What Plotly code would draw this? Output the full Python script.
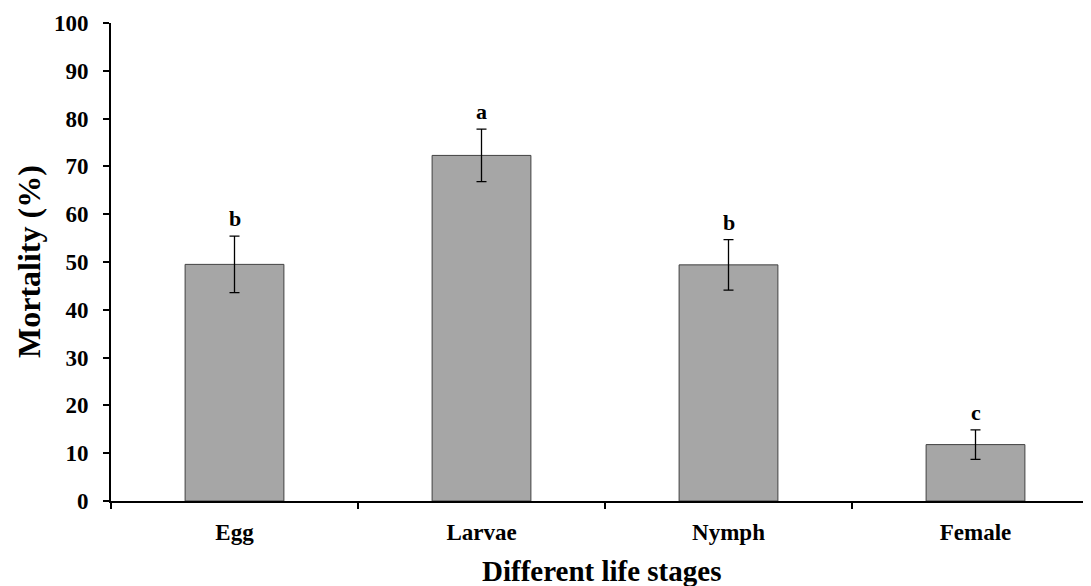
import plotly.graph_objects as go

stages = ["Egg", "Larvae", "Nymph", "Female"]
mortality = [49.5, 72.3, 49.4, 11.8]
errors = [5.9, 5.5, 5.3, 3.1]
letters = ["b", "a", "b", "c"]
y_ticks = [0, 10, 20, 30, 40, 50, 60, 70, 80, 90, 100]
x_title = "Different life stages"
y_title = "Mortality (%)"

FONT = "Liberation Serif"

fig = go.Figure()
fig.add_trace(go.Bar(
    x=stages, y=mortality, width=0.4,
    marker=dict(color="#a6a6a6", line=dict(color="#404040", width=1)),
    error_y=dict(type="data", array=errors, visible=True,
                 color="black", thickness=1.3, width=5),
))

for s, v, e, l in zip(stages, mortality, errors, letters):
    fig.add_annotation(x=s, y=v + e, text=l, showarrow=False,
                       yanchor="bottom", yshift=3,
                       font=dict(family=FONT, size=22, color="black", weight="bold"))

fig.add_annotation(xref="paper", yref="paper", x=0.5, y=0, yshift=-70, xshift=-4,
                   text=x_title, showarrow=False, xanchor="center", yanchor="middle",
                   font=dict(family=FONT, size=29, color="black", weight="bold"))
fig.add_annotation(xref="paper", yref="paper", x=0, y=0.5, xshift=-82,
                   text=y_title, showarrow=False, textangle=-90,
                   xanchor="center", yanchor="middle",
                   font=dict(family=FONT, size=32, color="black", weight="bold"))

fig.update_layout(
    width=1091, height=586,
    margin=dict(l=103, r=0, t=15, b=92.5, autoexpand=False),
    plot_bgcolor="white", paper_bgcolor="white",
    showlegend=False,
)
fig.update_xaxes(
    type="category", range=[-0.5, 3.5], automargin=False,
    showline=True, linecolor="black", linewidth=2,
    ticks="outside", tickson="boundaries", ticklen=6, tickwidth=2, tickcolor="black",
    tickfont=dict(family=FONT, size=23, color="black", weight="bold"),
    ticklabelstandoff=9,
    showgrid=False,
)
fig.update_yaxes(
    range=[0, 100], tickvals=y_ticks, automargin=False,
    showline=True, linecolor="black", linewidth=2,
    ticks="outside", ticklen=6, tickwidth=2, tickcolor="black",
    tickfont=dict(family=FONT, size=23, color="black", weight="bold"),
    ticklabelstandoff=10,
    showgrid=False, zeroline=False,
)

fig.write_html("out.html")
